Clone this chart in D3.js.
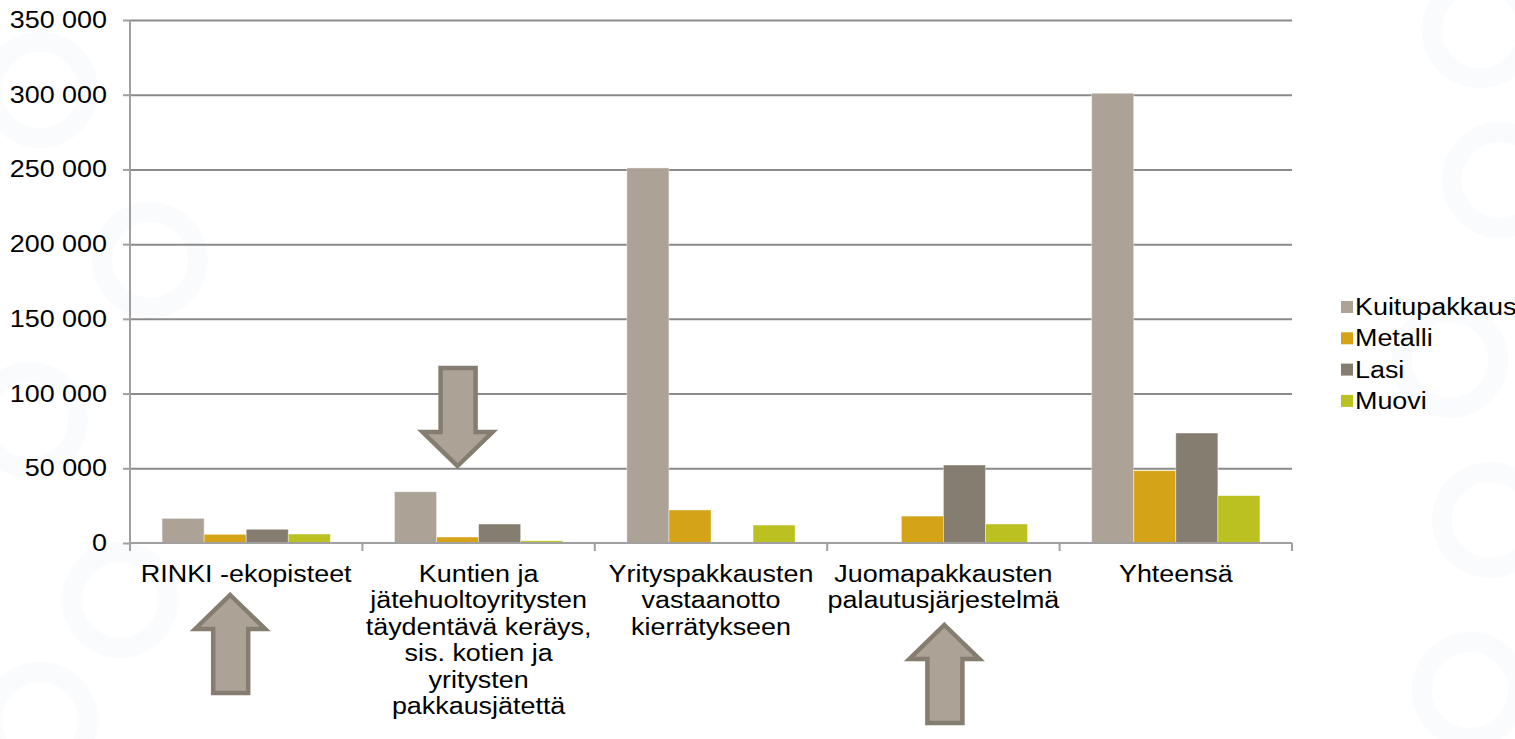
<!DOCTYPE html>
<html>
<head>
<meta charset="utf-8">
<script src="https://cdn.jsdelivr.net/npm/d3@7"></script>
<style>
  body { margin: 0; background: #fff; }
  svg { display: block; font-family: "Liberation Sans", Arial, sans-serif; }
</style>
</head>
<body>
<div id="chart"></div>
<script>
// chart data
const categories = [
  "RINKI -ekopisteet",
  "Kuntien ja jätehuoltoyritysten täydentävä keräys, sis. kotien ja yritysten pakkausjätettä",
  "Yrityspakkausten vastaanotto kierrätykseen",
  "Juomapakkausten palautusjärjestelmä",
  "Yhteensä"
];
// wrapped label lines, as in the picture
const categoryLines = [
  ["RINKI -ekopisteet"],
  ["Kuntien ja", "jätehuoltoyritysten", "täydentävä keräys,", "sis. kotien ja", "yritysten", "pakkausjätettä"],
  ["Yrityspakkausten", "vastaanotto", "kierrätykseen"],
  ["Juomapakkausten", "palautusjärjestelmä"],
  ["Yhteensä"]
];
const series = ["Kuitupakkaus", "Metalli", "Lasi", "Muovi"];
const kuitupakkaus = [16500, 34300, 251000, 0, 301000];
const metalli = [5800, 4000, 22100, 18000, 48400];
const lasi = [9200, 12700, 0, 52200, 73600];
const muovi = [6000, 1500, 12000, 12700, 31700];
const yTicks = [0, 50000, 100000, 150000, 200000, 250000, 300000, 350000];
// arrows drawn on top of the chart (category index, direction)
const arrows = [
  { cat: 0, dir: "up" },
  { cat: 1, dir: "down" },
  { cat: 3, dir: "up" }
];

const colors = ["#aca396", "#d5a318", "#857d70", "#bbc121"];
const valuesBySeries = [kuitupakkaus, metalli, lasi, muovi];

const width = 1515;
const height = 739;
const plot = { left: 130, right: 1292, top: 20, bottom: 543 };
const sx = 1.17; // text in the reference is stretched sideways
const fontSize = 23;

const svg = d3.select("#chart").append("svg")
  .attr("width", width)
  .attr("height", height);

svg.append("rect").attr("width", width).attr("height", height).attr("fill", "#fff");

// faint watermark rings
const rings = [
  [40, 90], [150, 260], [30, 420], [120, 600], [40, 720],
  [1480, 30], [1500, 180], [1450, 360], [1490, 520], [1470, 690]
];
svg.append("g").selectAll("circle").data(rings).join("circle")
  .attr("cx", (d) => d[0]).attr("cy", (d) => d[1]).attr("r", 48)
  .attr("fill", "none").attr("stroke", "#fafbfc").attr("stroke-width", 20);

const x0 = d3.scaleBand().domain(categories).range([plot.left, plot.right]);
const bw = x0.bandwidth();
const x1 = d3.scaleBand().domain(series).range([bw * 0.138, bw * 0.862]);
const y = d3.scaleLinear().domain([0, 350000]).range([plot.bottom, plot.top]);

const fmt = d3.formatLocale({ decimal: ",", thousands: "\u00a0", grouping: [3], currency: ["", ""] }).format(",d");

// gridlines
svg.append("g")
  .attr("transform", `translate(${plot.left},0)`)
  .call(d3.axisLeft(y).tickValues(yTicks.slice(1)).tickFormat("").tickSize(-(plot.right - plot.left)))
  .call((g) => g.select(".domain").remove())
  .call((g) => g.selectAll("line").attr("stroke", "#8a8a8a").attr("stroke-width", 2));

// bars
const table = categories.map((c, i) => ({ cat: c, values: series.map((s, j) => ({ s, v: valuesBySeries[j][i] })) }));
svg.append("g").selectAll("g").data(table).join("g")
  .attr("transform", (d) => `translate(${x0(d.cat)},0)`)
  .selectAll("rect").data((d) => d.values).join("rect")
  .attr("x", (d) => x1(d.s))
  .attr("y", (d) => y(d.v))
  .attr("width", x1.bandwidth())
  .attr("height", (d) => y(0) - y(d.v))
  .attr("fill", (d, i) => colors[i])
  .attr("stroke", "#fff").attr("stroke-opacity", 0.5).attr("stroke-width", 0.8);

// y axis
const yAxis = svg.append("g")
  .attr("transform", `translate(${plot.left},0)`)
  .call(d3.axisLeft(y).tickValues(yTicks).tickFormat("").tickSize(7));
yAxis.selectAll("line, path").attr("stroke", "#a0a0a0").attr("stroke-width", 2);
yAxis.select(".domain").attr("d", `M0,${plot.top}V${plot.bottom}`);

svg.append("g").selectAll("text").data(yTicks).join("text")
  .attr("transform", (d) => `translate(107,${y(d) + 8}) scale(${sx},1)`)
  .attr("text-anchor", "end")
  .attr("font-size", fontSize)
  .attr("fill", "#000")
  .text((d) => fmt(d));

// x axis
const xAxis = svg.append("g").attr("transform", `translate(0,${plot.bottom})`);
xAxis.append("line").attr("x1", plot.left).attr("x2", plot.right)
  .attr("stroke", "#a0a0a0").attr("stroke-width", 2);
const bounds = categories.map((c) => x0(c)).concat([plot.right]);
xAxis.selectAll(".tick").data(bounds).join("line")
  .attr("x1", (d) => d).attr("x2", (d) => d).attr("y1", 0).attr("y2", 8)
  .attr("stroke", "#a0a0a0").attr("stroke-width", 2);

const labels = svg.append("g").selectAll("g").data(categories).join("g")
  .attr("transform", (d) => `translate(${x0(d) + bw / 2},582) scale(${sx},1)`);
labels.selectAll("text").data((d, i) => categoryLines[i]).join("text")
  .attr("y", (d, i) => i * 26.5)
  .attr("text-anchor", "middle")
  .attr("font-size", fontSize)
  .attr("fill", "#000")
  .text((d) => d);

// legend
const legend = svg.append("g").selectAll("g").data(series).join("g")
  .attr("transform", (d, i) => `translate(1341,${307 + i * 31.3})`);
legend.append("rect").attr("x", 0).attr("y", -6).attr("width", 12).attr("height", 12)
  .attr("fill", (d, i) => colors[i]);
legend.append("text")
  .attr("transform", `translate(14,8) scale(${sx},1)`)
  .attr("font-size", fontSize)
  .attr("fill", "#000")
  .text((d) => d);

// arrows
const arrowOffsets = [-16, -21, 1];
function arrowPath(dir) {
  // shape around (0,0) = tip, pointing up, length 98
  const p = [[0, 0], [35, 34], [18, 34], [18, 98], [-17, 98], [-17, 34], [-35, 34]];
  const pts = dir === "up" ? p : p.map(([a, b]) => [a, -b]);
  return "M" + pts.map((q) => q.join(",")).join("L") + "Z";
}
const arrowTip = { up: 595, down: 466 };
svg.append("g").selectAll("path").data(arrows).join("path")
  .attr("transform", (d, i) => `translate(${x0(categories[d.cat]) + bw / 2 + arrowOffsets[i]},${d.cat === 3 ? 625 : arrowTip[d.dir]})`)
  .attr("d", (d) => arrowPath(d.dir))
  .attr("fill", "#aca396")
  .attr("stroke", "#857d70")
  .attr("stroke-width", 4.5)
  .attr("stroke-linejoin", "miter");
</script>
</body>
</html>
